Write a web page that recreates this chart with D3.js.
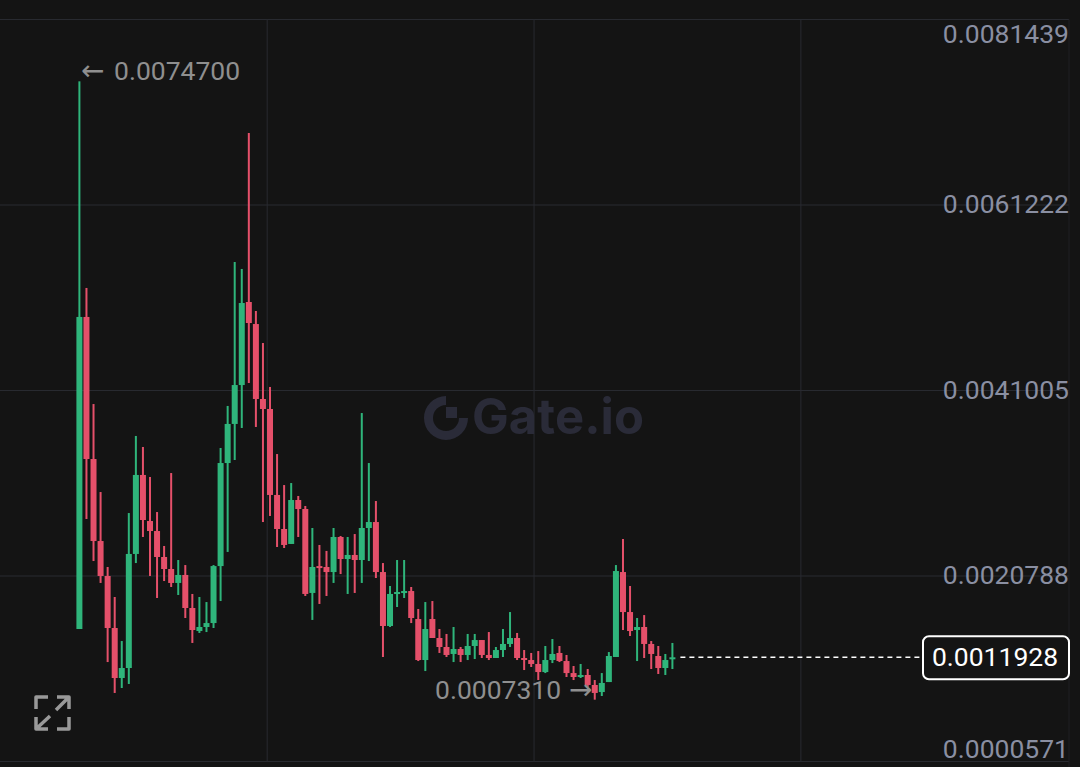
<!DOCTYPE html>
<html>
<head>
<meta charset="utf-8">
<title>Gate.io price chart</title>
<style>
  html, body { margin: 0; background: #141414; }
  svg { display: block; font-family: Roboto, "Liberation Sans", sans-serif; }
</style>
</head>
<body>
<svg width="1080" height="767"></svg>
<script src="https://d3js.org/d3.v7.min.js"></script>
<script>

var openPrice = [
  0.001501, 0.004902, 0.003354, 0.002460, 0.002079, 0.001512, 0.000967, 0.001076, 0.002319, 0.003180,
  0.002678, 0.002569, 0.002286, 0.002155, 0.002003, 0.002090, 0.001730, 0.001479, 0.001523, 0.001566,
  0.002187, 0.003310, 0.003736, 0.004160, 0.005065, 0.004825, 0.004008, 0.003899, 0.002962, 0.002591,
  0.002428, 0.002907, 0.002809, 0.001894, 0.002187, 0.002177, 0.002122, 0.002504, 0.002264, 0.002308,
  0.002253, 0.002602, 0.002667, 0.002122, 0.001534, 0.001883, 0.001904, 0.001915, 0.001610, 0.001163,
  0.001610, 0.001403, 0.001305, 0.001229, 0.001283, 0.001218, 0.001316, 0.001381, 0.001218, 0.001185,
  0.001272, 0.001338, 0.001403, 0.001185, 0.001163, 0.001120, 0.001032, 0.001163, 0.001240, 0.001152,
  0.001021, 0.000978, 0.001000, 0.000891, 0.000814, 0.000923, 0.001196, 0.002122, 0.001686, 0.001490,
  0.001523, 0.001338, 0.001207, 0.001076, 0.001174
];
var highPrice = [
  0.007470, 0.005218, 0.003953, 0.002994, 0.002177, 0.001850, 0.001370, 0.002765, 0.003605, 0.003485,
  0.003158, 0.002776, 0.002406, 0.003201, 0.002253, 0.002198, 0.001883, 0.001850, 0.001795, 0.002198,
  0.003474, 0.003932, 0.005501, 0.005425, 0.006907, 0.004967, 0.004618, 0.004139, 0.003408, 0.003070,
  0.003092, 0.002951, 0.002842, 0.002602, 0.002417, 0.002352, 0.002602, 0.002515, 0.002504, 0.002536,
  0.003855, 0.003310, 0.002896, 0.002220, 0.001970, 0.002253, 0.002253, 0.001959, 0.001719, 0.001795,
  0.001806, 0.001501, 0.001447, 0.001523, 0.001305, 0.001447, 0.001447, 0.001381, 0.001468, 0.001305,
  0.001501, 0.001686, 0.001458, 0.001272, 0.001240, 0.001261, 0.001316, 0.001392, 0.001316, 0.001218,
  0.001098, 0.001120, 0.001065, 0.000945, 0.001021, 0.001250, 0.002198, 0.002482, 0.001970, 0.001621,
  0.001653, 0.001370, 0.001316, 0.001229, 0.001349
];
var lowPrice = [
  0.001501, 0.002700, 0.002242, 0.002003, 0.001141, 0.000804, 0.000858, 0.000902, 0.002220, 0.002504,
  0.002079, 0.001839, 0.002024, 0.001959, 0.001872, 0.001621, 0.001349, 0.001458, 0.001468, 0.001512,
  0.001806, 0.002341, 0.003343, 0.003692, 0.004182, 0.003703, 0.002667, 0.002733, 0.002395, 0.002384,
  0.002428, 0.002504, 0.001861, 0.001600, 0.001774, 0.001861, 0.002003, 0.002100, 0.001883, 0.001894,
  0.002003, 0.002242, 0.002057, 0.001196, 0.001523, 0.001741, 0.001839, 0.001566, 0.001152, 0.001043,
  0.001403, 0.001240, 0.001196, 0.001141, 0.001141, 0.001163, 0.001174, 0.001185, 0.001163, 0.001185,
  0.001196, 0.001305, 0.001163, 0.001054, 0.001087, 0.000945, 0.001021, 0.001130, 0.001141, 0.000978,
  0.000945, 0.000967, 0.000869, 0.000731, 0.000771, 0.000923, 0.001196, 0.001490, 0.001425, 0.001152,
  0.001185, 0.001065, 0.001011, 0.001000, 0.001065
];
var closePrice = [
  0.004902, 0.003354, 0.002460, 0.002079, 0.001512, 0.000967, 0.001076, 0.002319, 0.003180, 0.002689,
  0.002569, 0.002286, 0.002155, 0.002003, 0.002090, 0.001730, 0.001490, 0.001523, 0.001566, 0.002187,
  0.003310, 0.003736, 0.004160, 0.005054, 0.004836, 0.004008, 0.003899, 0.002962, 0.002591, 0.002417,
  0.002907, 0.002809, 0.001883, 0.002177, 0.002177, 0.002122, 0.002504, 0.002264, 0.002308, 0.002253,
  0.002602, 0.002667, 0.002122, 0.001534, 0.001883, 0.001904, 0.001915, 0.001621, 0.001163, 0.001501,
  0.001403, 0.001305, 0.001218, 0.001283, 0.001218, 0.001316, 0.001381, 0.001218, 0.001185, 0.001272,
  0.001338, 0.001403, 0.001185, 0.001174, 0.001120, 0.001032, 0.001163, 0.001229, 0.001152, 0.001021,
  0.000978, 0.001000, 0.000891, 0.000804, 0.000913, 0.001207, 0.002133, 0.001686, 0.001479, 0.001523,
  0.001338, 0.001229, 0.001076, 0.001163, 0.0011928
];

var priceTicks = [0.0081439, 0.0061222, 0.0041005, 0.0020788, 0.0000571];
var timeTicks = [26.6, 64.4, 102.2];
var lastPrice = 0.0011928;
var maxPrice = 0.0074700;
var minPrice = 0.0007310;

var green = "#2fb57b",
    red = "#e5506a",
    gridColor = "#282a30",
    axisText = "#8a8fa2",
    noteText = "#8f8f8f";

var svg = d3.select("svg"),
    width = +svg.attr("width"),
    height = +svg.attr("height");

var x = d3.scaleLinear().domain([0, 84]).range([79.4, 672.4]);
var y = d3.scaleLinear().domain([0.0000571, 0.0081439]).range([761.5, 19.5]);
var fmt = d3.format(".7f");
var axisRight = 1069;

// grid
svg.append("g").selectAll("line")
  .data(priceTicks)
  .enter().append("line")
    .attr("x1", 0).attr("x2", axisRight)
    .attr("y1", function(d) { return y(d); })
    .attr("y2", function(d) { return y(d); })
    .attr("stroke", gridColor);

svg.append("g").selectAll("line")
  .data(timeTicks)
  .enter().append("line")
    .attr("x1", function(d) { return x(d); })
    .attr("x2", function(d) { return x(d); })
    .attr("y1", y.range()[1]).attr("y2", y.range()[0])
    .attr("stroke", gridColor);

svg.append("line")
    .attr("x1", axisRight).attr("x2", axisRight)
    .attr("y1", y.range()[1]).attr("y2", height)
    .attr("stroke", "#1e1f22");

// watermark
var logo = svg.append("g").attr("transform", "translate(446,418)").attr("fill", "#2a2b38");
logo.append("path")
    .attr("d", d3.arc().innerRadius(13).outerRadius(22).startAngle(Math.PI / 2).endAngle(Math.PI * 2)());
logo.append("rect").attr("x", 0).attr("y", -11).attr("width", 11).attr("height", 11);
svg.append("text")
    .attr("x", 472).attr("y", 434)
    .attr("font-family", "Inter, Roboto, sans-serif")
    .attr("font-size", 49)
    .attr("font-weight", 700)
    .attr("textLength", 172)
    .attr("fill", "#2a2b38")
    .text("Gate.io");

// candles
var candles = svg.append("g").selectAll("g")
  .data(d3.range(openPrice.length))
  .enter().append("g")
    .attr("fill", function(i) { return closePrice[i] >= openPrice[i] ? green : red; });

candles.append("rect")
    .attr("x", function(i) { return x(i) - 1; })
    .attr("width", 2)
    .attr("y", function(i) { return y(highPrice[i]); })
    .attr("height", function(i) { return y(lowPrice[i]) - y(highPrice[i]); });

candles.append("rect")
    .attr("x", function(i) { return x(i) - 3; })
    .attr("width", 6)
    .attr("y", function(i) { return y(Math.max(openPrice[i], closePrice[i])); })
    .attr("height", function(i) { return Math.max(2, Math.abs(y(openPrice[i]) - y(closePrice[i]))); });

// price axis, first and last label are held inside the plot
svg.append("g").selectAll("text")
  .data(priceTicks)
  .enter().append("text")
    .attr("x", 1069)
    .attr("y", function(d) { return Math.max(33.5, Math.min(748, y(d) - 1.5)); })
    .attr("dy", "0.36em")
    .attr("text-anchor", "end")
    .attr("font-size", 26.5)
    .attr("fill", axisText)
    .text(function(d) { return fmt(d); });

// high / low notes
var maxNote = svg.append("text")
    .attr("x", 81).attr("y", 70).attr("dy", "0.36em")
    .attr("font-size", 26.5)
    .attr("fill", noteText);
maxNote.append("tspan").attr("font-family", "DejaVu Sans").attr("font-size", 28).text("\u2190");
maxNote.append("tspan").attr("x", 114).text(fmt(maxPrice));

var minNote = svg.append("text")
    .attr("x", 435).attr("y", 689.5).attr("dy", "0.36em")
    .attr("font-size", 26.5)
    .attr("fill", noteText);
minNote.append("tspan").text(fmt(minPrice));
minNote.append("tspan").attr("x", 569).attr("font-family", "DejaVu Sans").attr("font-size", 28).text("\u2192");

// last price line and tag
svg.append("line")
    .attr("x1", x(84) + 8).attr("x2", 923)
    .attr("y1", y(lastPrice)).attr("y2", y(lastPrice))
    .attr("stroke", "#fff")
    .attr("stroke-width", 1.6)
    .attr("stroke-dasharray", "5,4");

svg.append("rect")
    .attr("x", 923).attr("y", y(lastPrice) - 21)
    .attr("width", 146).attr("height", 43)
    .attr("rx", 6)
    .attr("fill", "#141414")
    .attr("stroke", "#fff")
    .attr("stroke-width", 2);

svg.append("text")
    .attr("x", 995).attr("y", y(lastPrice) - 1).attr("dy", "0.36em")
    .attr("text-anchor", "middle")
    .attr("font-size", 26.5)
    .attr("fill", "#fff")
    .text(fmt(lastPrice));

// fullscreen icon
svg.append("path")
    .attr("d", "M36 709V697H48M57 697H69V709M69 717V729H57M48 729H36V717M69 697L56 710M36 729L50 716")
    .attr("fill", "none")
    .attr("stroke", "#999")
    .attr("stroke-width", 3.5)
    .attr("stroke-linejoin", "round");

</script>
</body>
</html>
